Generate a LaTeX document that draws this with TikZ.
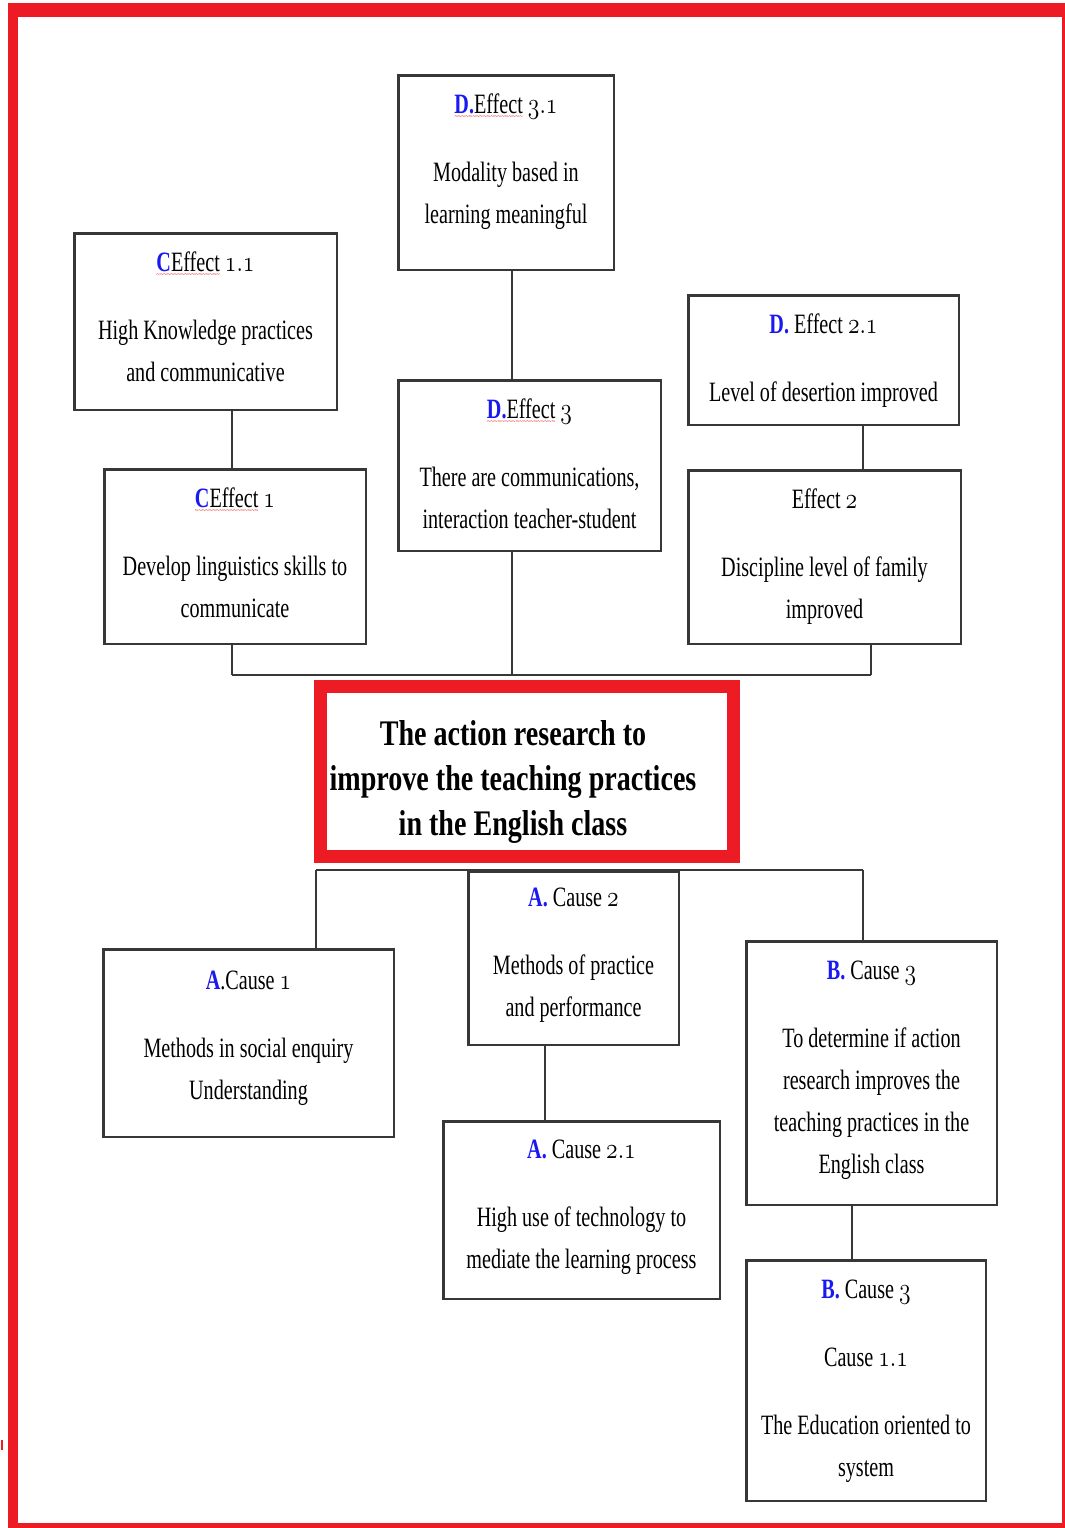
\documentclass[tikz,border=0pt]{standalone}
\usepackage{fontspec}
\usepackage{graphicx}
\newfontfamily\boxfont[FakeStretch=0.72]{Liberation Serif}
\newfontfamily\titlefont[FakeStretch=0.78]{Liberation Serif}
\definecolor{framered}{RGB}{237,28,36}
\definecolor{labelblue}{RGB}{25,25,240}
\definecolor{wavered}{RGB}{235,40,40}
\definecolor{edge}{RGB}{55,55,55}

% blue letter of a label
\newcommand\bl[1]{\textcolor{labelblue}{\bfseries #1}}
% old-style figures
\newcommand\onum[1]{\scalebox{0.95}[1.18]{$\mathnormal{#1}$}}
% red wavy spelling underline
\newcommand\spellwave[1]{\setbox0=\hbox{#1}\rlap{\raisebox{-6pt}[0pt][0pt]{\color{wavered}\hbox to \wd0{\xleaders\hbox{\fontsize{9pt}{9pt}\selectfont\char"7E}\hfil}}}\box0\relax}
% centred lines whose baseline is the first line
\newcommand\lines[1]{\begin{tabular}[t]{@{}c@{}}#1\end{tabular}}

\tikzset{
  box/.style={draw=edge, line width=2.5pt, fill=white, inner sep=0pt},
  txt/.style={font=\boxfont\fontsize{28pt}{42pt}\selectfont, inner sep=0pt, anchor=base},
  titletxt/.style={font=\titlefont\bfseries\fontsize{36pt}{45pt}\selectfont, inner sep=0pt, anchor=base},
  mainbox/.style={draw=framered, line width=13pt, fill=white, inner sep=0pt},
  link/.style={draw=edge, line width=2pt},
}

\begin{document}
\begin{tikzpicture}[x=1pt, y=-1pt]
\useasboundingbox (0,0) rectangle (1065,1528);

% page frame
\fill[framered] (8,3) rectangle (1065,1528);
\fill[white] (18,17) rectangle (1062,1523);
\fill[framered] (0.5,1440) rectangle (2.5,1450);

% effects
\node[box, minimum width=215.5pt, minimum height=194.5pt] (e31) at (506,172.5) {};
\node[txt] (e31t) at ([yshift=-39pt]e31.north) {\lines{\spellwave{\bl{D.}Effect} \onum{3.1}\\[26pt]Modality based in\\learning meaningful}};

\node[box, minimum width=262.5pt, minimum height=176.5pt] (c11) at (205.5,321.5) {};
\node[txt] (c11t) at ([yshift=-39pt]c11.north) {\lines{\spellwave{\bl{C}Effect} \onum{1.1}\\[26pt]High Knowledge practices\\and communicative}};

\node[box, minimum width=270.5pt, minimum height=129.5pt] (e21) at (823.5,360) {};
\node[txt] (e21t) at ([yshift=-39pt]e21.north) {\lines{\bl{D.} Effect \onum{2.1}\\[26pt]Level of desertion improved}};

\node[box, minimum width=262.5pt, minimum height=170.5pt] (e3) at (529.5,465.5) {};
\node[txt] (e3t) at ([yshift=-39pt]e3.north) {\lines{\spellwave{\bl{D.}Effect} \onum{3}\\[26pt]There are communications,\\interaction teacher-student}};

\node[box, minimum width=261.5pt, minimum height=174.5pt] (c1) at (235,556.5) {};
\node[txt] (c1t) at ([yshift=-39pt]c1.north) {\lines{\spellwave{\bl{C}Effect} \onum{1}\\[26pt]Develop linguistics skills to\\communicate}};

\node[box, minimum width=272.5pt, minimum height=173.5pt] (e2) at (824.5,557) {};
\node[txt] (e2t) at ([yshift=-39pt]e2.north) {\lines{Effect \onum{2}\\[26pt]Discipline level of family\\improved}};

% central problem
\node[mainbox, minimum width=413pt, minimum height=170pt] (main) at (527,771.5) {};
\node[titletxt] (maint) at (513,745) {\lines{The action research to\\improve the teaching practices\\in the English class}};

% causes
\node[box, minimum width=290.5pt, minimum height=187.5pt] (a1) at (248.5,1043) {};
\node[txt] (a1t) at ([yshift=-41pt]a1.north) {\lines{\bl{A}.Cause \onum{1}\\[26pt]Methods in social enquiry\\Understanding}};

\node[box, minimum width=210.5pt, minimum height=173.5pt] (a2) at (573.5,958) {};
\node[txt] (a2t) at ([yshift=-36pt]a2.north) {\lines{\bl{A.} Cause \onum{2}\\[26pt]Methods of practice\\and performance}};

\node[box, minimum width=250.5pt, minimum height=263.5pt] (b3) at (871.5,1073) {};
\node[txt] (b3t) at ([yshift=-39pt]b3.north) {\lines{\bl{B.} Cause \onum{3}\\[26pt]To determine if action\\research improves the\\teaching practices in the\\English class}};

\node[box, minimum width=276.5pt, minimum height=177.5pt] (a21) at (581.5,1210) {};
\node[txt] (a21t) at ([yshift=-38pt]a21.north) {\lines{\bl{A.} Cause \onum{2.1}\\[26pt]High use of technology to\\mediate the learning process}};

\node[box, minimum width=239.5pt, minimum height=240.5pt] (b31) at (866,1380.5) {};
\node[txt] (b31t) at ([yshift=-39pt]b31.north) {\lines{\bl{B.} Cause \onum{3}\\[26pt]Cause \onum{1.1}\\[26pt]The Education oriented to\\system}};

% connectors above the central box
\coordinate (topL) at (232,675);
\coordinate (topM) at (512,675);
\coordinate (topR) at (871,675);
\coordinate (colE) at (863,0);
\draw[link] (topL) -- (topR);
\draw[link] (c1.south -| topL) -- (topL);
\draw[link] (e3.south -| topM) -- (topM);
\draw[link] (e2.south -| topR) -- (topR);
\draw[link] (e31.south -| topM) -- (e3.north -| topM);
\draw[link] (c11.south -| topL) -- (c1.north -| topL);
\draw[link] (e21.south -| colE) -- (e2.north -| colE);

% connectors below the central box
\coordinate (botL) at (316,870);
\coordinate (botM) at (563,870);
\coordinate (botR) at (863,870);
\coordinate (colA) at (545,0);
\coordinate (colB) at (852,0);
\draw[link] (botL) -- (botR);
\draw[link, shorten <=6.5pt] (main.south -| botM) -- (botM);
\draw[link] (botL) -- (a1.north -| botL);
\draw[link] (botR) -- (b3.north -| botR);
\draw[link] (a2.south -| colA) -- (a21.north -| colA);
\draw[link] (b3.south -| colB) -- (b31.north -| colB);
\end{tikzpicture}
\end{document}
